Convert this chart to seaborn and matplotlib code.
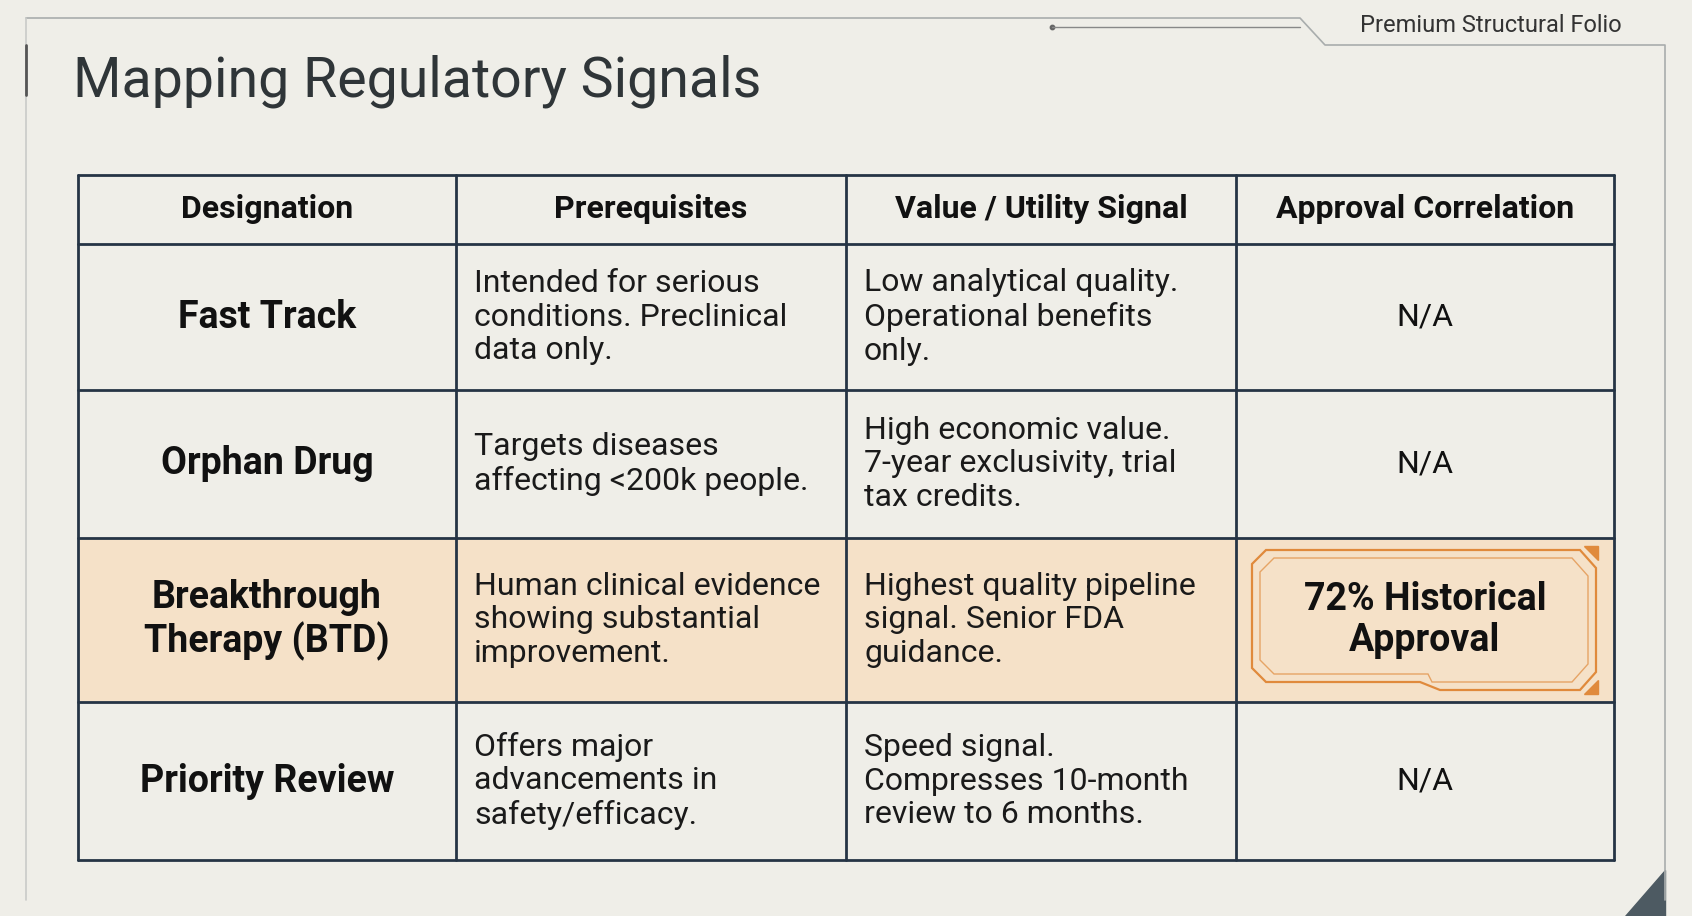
import matplotlib
matplotlib.use("Agg")
import matplotlib.pyplot as plt
import seaborn as sns
from matplotlib.patches import Rectangle, Polygon

# ── Data ──────────────────────────────────────────────────────────────────────
title = "Mapping Regulatory Signals"
folio = "Premium Structural Folio"
headers = ["Designation", "Prerequisites", "Value / Utility Signal", "Approval Correlation"]
designations = ["Fast Track", "Orphan Drug", "Breakthrough\nTherapy (BTD)", "Priority Review"]
prerequisites = [
    "Intended for serious\nconditions. Preclinical\ndata only.",
    "Targets diseases\naffecting <200k people.",
    "Human clinical evidence\nshowing substantial\nimprovement.",
    "Offers major\nadvancements in\nsafety/efficacy.",
]
value_signals = [
    "Low analytical quality.\nOperational benefits\nonly.",
    "High economic value.\n7-year exclusivity, trial\ntax credits.",
    "Highest quality pipeline\nsignal. Senior FDA\nguidance.",
    "Speed signal.\nCompresses 10-month\nreview to 6 months.",
]
approval = ["N/A", "N/A", "72% Historical\nApproval", "N/A"]
highlight_row = 2

# ── Layout (pixels) ───────────────────────────────────────────────────────────
col_x = [78, 456, 846, 1236, 1614]
row_y = [175, 244, 390, 538, 702, 860]
BG = "#efeee8"
LINE = "#253445"
HL = "#f5e1c8"
ORANGE = "#e08a3c"

sns.set_theme(style="white")
plt.rcParams["font.family"] = ["Roboto", "DejaVu Sans"]

fig = plt.figure(figsize=(16.92, 9.16), dpi=100, facecolor=BG)
ax = fig.add_axes([0, 0, 1, 1])
ax.set_xlim(0, 1692)
ax.set_ylim(916, 0)
ax.axis("off")
ax.set_facecolor(BG)

# decorative frame
ax.plot([26, 1300, 1325, 1665, 1665], [18, 18, 45, 45, 900], color="#a9adad", lw=1.2)
ax.plot([26, 26], [18, 900], color="#c9cbc8", lw=1.2)
ax.plot([26, 26], [45, 95], color="#555", lw=2)
ax.plot([1052, 1300], [27, 27], color="#888", lw=1)
ax.scatter([1052], [27], s=10, color="#666")
ax.add_patch(Polygon([[1665, 870], [1665, 916], [1625, 916]], color="#4d5a62"))
ax.text(1622, 25, folio, fontsize=17, color="#333", ha="right", va="center")
ax.text(73, 81, title, fontsize=40, color="#2f3538", ha="left", va="center")

# highlight row
ax.add_patch(Rectangle((col_x[0], row_y[highlight_row + 1]), col_x[-1] - col_x[0],
                       row_y[highlight_row + 2] - row_y[highlight_row + 1],
                       color=HL, zorder=1))
# orange frame around badge
bx0, bx1 = 1252, 1596
by0, by1 = row_y[highlight_row + 1] + 12, row_y[highlight_row + 2] - 12
badge = [[bx0 + 14, by0], [1420, by0], [1440, by0 - 6 + 6], [1580, by0], [bx1, by0 + 18],
         [bx1, by1 - 18], [1580, by1], [1440, by1], [1420, by1 - 8], [bx0 + 14, by1 - 8],
         [bx0, by1 - 22], [bx0, by0 + 14]]
ax.add_patch(Polygon(badge, closed=True, fill=False, ec=ORANGE, lw=1.6, zorder=2))
inner = [[p[0] + (8 if p[0] < 1424 else -8), p[1] + (8 if p[1] < 620 else -8)] for p in badge]
ax.add_patch(Polygon(inner, closed=True, fill=False, ec=ORANGE, lw=1.0, alpha=0.7, zorder=2))
ax.add_patch(Polygon([[bx1 - 12, by0 - 4], [bx1 + 2, by0 - 4], [bx1 + 2, by0 + 10]], color=ORANGE, zorder=2))
ax.add_patch(Polygon([[bx1 + 2, by1 - 10], [bx1 + 2, by1 + 4], [bx1 - 12, by1 + 4]], color=ORANGE, zorder=2))

# grid
for x in col_x:
    ax.plot([x, x], [row_y[0], row_y[-1]], color=LINE, lw=2, zorder=3)
for y in row_y:
    ax.plot([col_x[0], col_x[-1]], [y, y], color=LINE, lw=2, zorder=3)

# header
for i, h in enumerate(headers):
    ax.text((col_x[i] + col_x[i + 1]) / 2, (row_y[0] + row_y[1]) / 2, h,
            fontsize=23, fontweight="bold", color="#111", ha="center", va="center", zorder=4)

# body
for r in range(len(designations)):
    yc = (row_y[r + 1] + row_y[r + 2]) / 2
    ax.text((col_x[0] + col_x[1]) / 2, yc, designations[r], fontsize=27, fontweight="bold",
            color="#111", ha="center", va="center", linespacing=1.15, zorder=4)
    ax.text(col_x[1] + 18, yc, prerequisites[r], fontsize=23, color="#1a1a1a",
            ha="left", va="center", linespacing=1.2, zorder=4)
    ax.text(col_x[2] + 18, yc, value_signals[r], fontsize=23, color="#1a1a1a",
            ha="left", va="center", linespacing=1.2, zorder=4)
    bold = r == highlight_row
    ax.text((col_x[3] + col_x[4]) / 2, yc, approval[r], fontsize=27 if bold else 23,
            fontweight="bold" if bold else "normal", color="#111",
            ha="center", va="center", linespacing=1.15, zorder=4)

fig.savefig("out.png", dpi=100, facecolor=BG)
